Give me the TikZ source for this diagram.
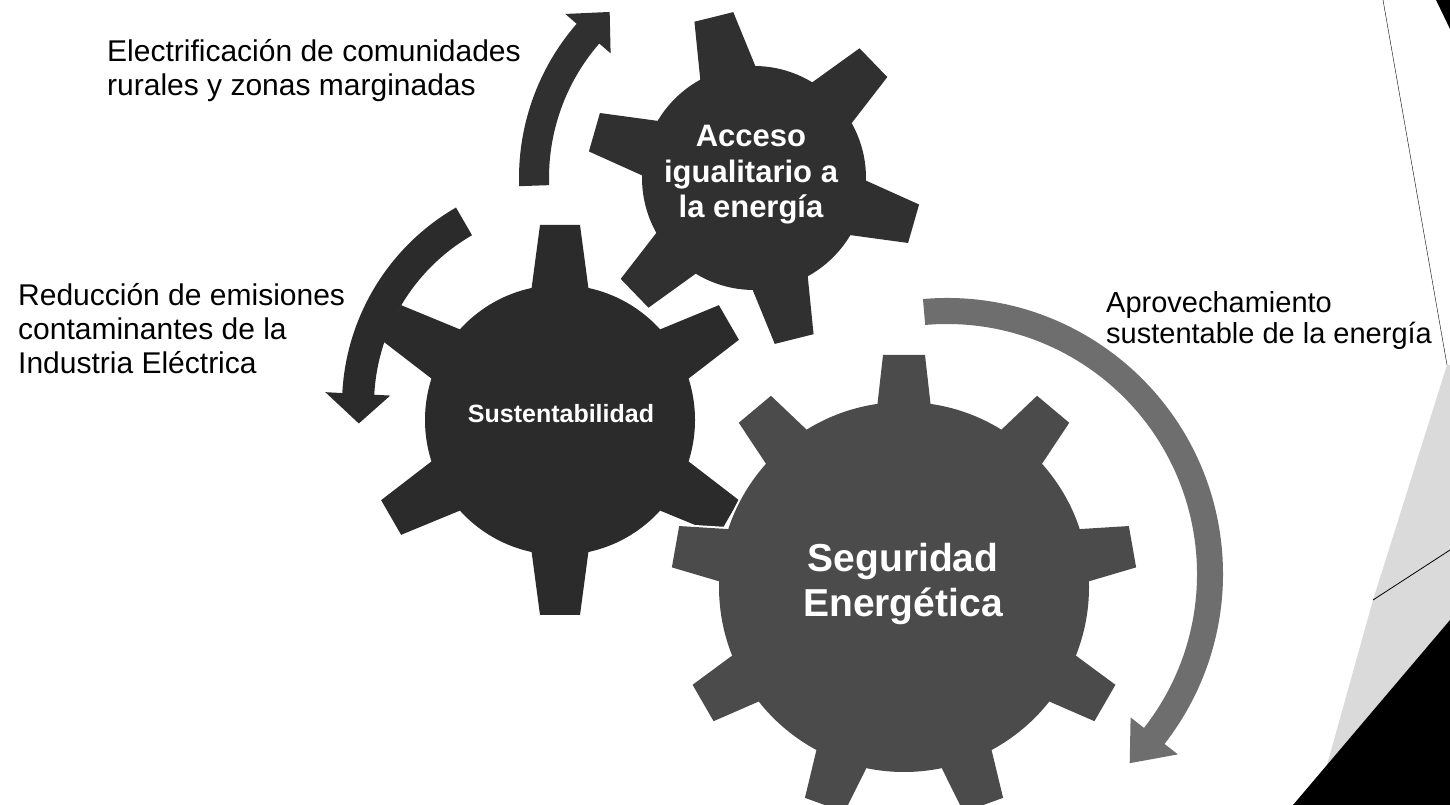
\documentclass[tikz,border=0pt]{standalone}
\usepackage{fontspec}
\setmainfont{Liberation Sans}
\usepackage{tikz}
\usetikzlibrary{positioning, calc}
\definecolor{accgray}{HTML}{303030}
\definecolor{susgray}{HTML}{2B2B2B}
\definecolor{seggray}{HTML}{4B4B4B}
\definecolor{arrgray}{HTML}{6E6E6E}
\definecolor{scangray}{HTML}{DADADA}

% centre, teeth, body radius, outer radius, phase, tip half width, base half width, style
\newcommand{\gearpieces}[8]{%
  \path[#8] (#1) circle[radius=#3pt];
  \foreach \tooth in {1,...,#2} {
    \path[#8, shift={(#1)}, rotate={#5+360*\tooth/#2}] (#3-15,-#7) -- (#4,-#6) -- (#4,#6) -- (#3-15,#7) -- cycle;
  }
}
\newcommand{\drawgear}[8]{%
  \gearpieces{#1}{#2}{#3}{#4}{#5}{#6}{#7}{#8, draw=white, line width=4pt}
  \gearpieces{#1}{#2}{#3}{#4}{#5}{#6}{#7}{#8}
}
% centre, inner r, outer r, start, head, tip, wing in, wing out, colour
\newcommand{\circarrow}[9]{%
  \fill[#9] ($(#1)+(#4:#3)$) arc[start angle=#4, end angle=#5, radius=#3pt]
    -- ($(#1)+(#5:#8)$) -- ($(#1)+(#6:{(#2+#3)/2})$) -- ($(#1)+(#5:#7)$)
    -- ($(#1)+(#5:#2)$) arc[start angle=#5, end angle=#4, radius=#2pt] -- cycle;
}

\begin{document}
\begin{tikzpicture}[x = 1pt, y = 1pt,
  lbl/.style = {anchor = base west, align = left, inner sep = 0pt, font = \fontsize{30}{34}\selectfont},
  geartxt/.style = {text = white, align = center, inner sep = 0pt}]
  \fill [white] (0,0) rectangle (1450,805);
  \useasboundingbox (0,0) rectangle (1450,805);

  % centres
  \coordinate (acc) at (754,627);
  \coordinate (sus) at (560,385);
  \coordinate (seg) at (904,218);
  \coordinate (larr) at (570,400);
  \coordinate (rarr) at (947,231);

  % gears
  \drawgear{sus}{6}{135}{195}{90}{20}{30}{fill = susgray}
  \drawgear{acc}{6}{112}{166}{104}{20}{30}{fill = accgray}
  \drawgear{seg}{9}{185}{232}{90}{21}{28}{fill = seggray}

  % arrows
  \circarrow{acc}{205}{235}{182}{139}{131}{190}{250}{accgray}
  \circarrow{larr}{196}{228}{120}{177}{185}{180}{245}{susgray}
  \circarrow{rarr}{250}{276}{95}{-38}{-46}{233}{293}{arrgray}

  % nodes
  \node [geartxt, font = \bfseries\fontsize{31}{35.5}\selectfont] (acceso) at (751,630) {Acceso\\igualitario a\\la energía};
  \node [geartxt, anchor = base, font = \bfseries\fontsize{25}{30}\selectfont] (sustent) at (561,382) {Sustentabilidad};
  \node [geartxt, font = \bfseries\fontsize{39}{45}\selectfont] (segur) at (903,221) {Seguridad\\Energética};

  \node [lbl] (electrif) at (107,709) {Electrificación de comunidades\\rurales y zonas marginadas};
  \node [lbl] (reduccion) at (18,431) {Reducción de emisiones\\contaminantes de la\\Industria Eléctrica};
  \node [lbl, font = \fontsize{29}{31}\selectfont] (aprovech) at (1106,461) {Aprovechamiento\\sustentable de la energía};

  % page edge of the scan
  \fill [scangray] (1447,440) -- (1373,205) -- (1327,40) -- (1450,185) -- (1450,440) -- cycle;
  \fill [black] (1293,0) -- (1450,0) -- (1450,185) -- cycle;
  \fill [black] (1436,805) -- (1450,805) -- (1450,776) -- cycle;
  \draw [thin] (1383,805) -- (1447,440);
  \draw [thick] (1373,205) -- (1450,255);
\end{tikzpicture}
\end{document}
